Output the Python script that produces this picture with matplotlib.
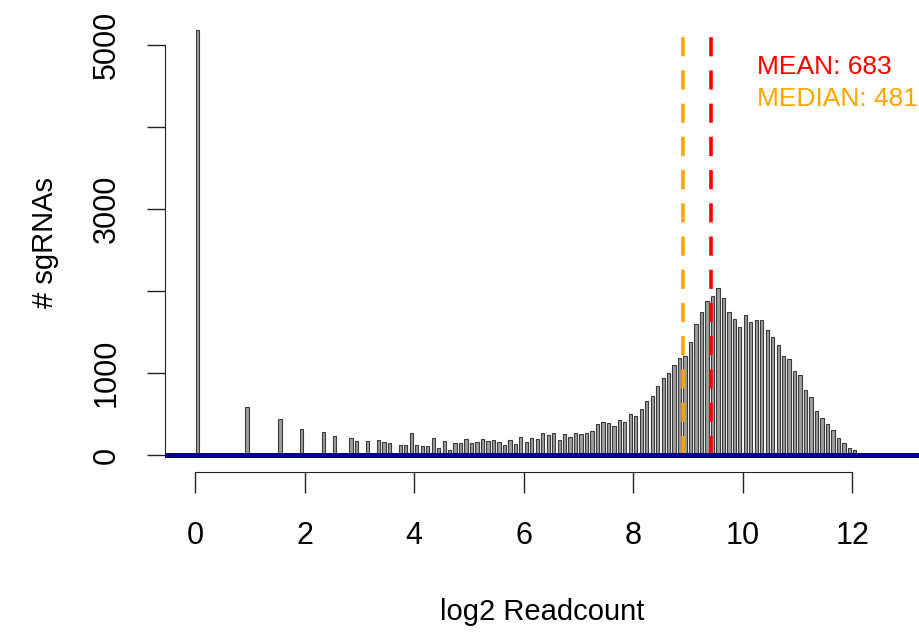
import matplotlib.pyplot as plt
import numpy as np

plt.rcParams['font.family'] = ['Liberation Sans', 'DejaVu Sans']

# histogram of log2(readcount + 1), bins of width 0.1 starting at 0
bin_start = 0.0
bin_width = 0.1
counts = [5180, 0, 0, 0, 0, 0, 0, 0, 0, 590,
          0, 0, 0, 0, 0, 440, 0, 0, 0, 320,
          0, 0, 0, 280, 0, 230, 0, 0, 210, 170,
          0, 170, 0, 180, 160, 150, 0, 120, 120, 270,
          120, 110, 110, 210, 85, 170, 60, 150, 150, 190,
          150, 160, 200, 175, 183, 162, 118, 183, 138, 219,
          158, 211, 191, 264, 244, 272, 179, 252, 219, 264,
          252, 272, 292, 374, 402, 386, 353, 422, 402, 505,
          470, 560, 658, 715, 844, 942, 1003, 1092, 1186, 1206,
          1380, 1592, 1746, 1876, 1937, 2030, 1916, 1746, 1660, 1555,
          1701, 1624, 1641, 1648, 1519, 1441, 1340, 1206, 1173, 1023,
          974, 788, 706, 536, 447, 374, 301, 211, 150, 82,
          57]
mean_count = 683
median_count = 481

counts = np.array(counts)
mids = bin_start + bin_width * (np.arange(len(counts)) + 0.5)

fig = plt.figure(figsize=(9.2, 6.39), dpi=100)
ax = fig.add_axes([165 / 920, 1 - 472 / 639, 755 / 920, 459 / 639])

ax.bar(mids, counts, width=0.06, color='#9e9e9e', edgecolor='#3a3a3a', linewidth=0.8, zorder=2)

top = counts.max()
ax.vlines(np.log2(median_count + 1), 0, top, color='orange', linewidth=2.6,
          linestyle=(0, (5.3, 3.9)), zorder=3)
ax.vlines(np.log2(mean_count + 1), 0, top, color='red', linewidth=2.6,
          linestyle=(0, (5.3, 3.9)), zorder=3)
ax.axhline(0, color='#000080', linewidth=3.6, zorder=4)

ax.text(10.26, 4640, 'MEAN: %d' % mean_count, color='red', fontsize=19, va='baseline')
ax.text(10.26, 4250, 'MEDIAN: %d' % median_count, color='orange', fontsize=19, va='baseline')

ax.set_xlim(-0.548, 13.24)
ax.set_ylim(-207, 5387)

for s in ['top', 'right']:
    ax.spines[s].set_visible(False)
ax.spines['left'].set_bounds(0, 5000)
ax.spines['bottom'].set_bounds(0, 12)
ax.spines['left'].set_color('#222222')
ax.spines['bottom'].set_color('#222222')

ax.set_xticks(np.arange(0, 13, 2))
ax.set_yticks(np.arange(0, 5001, 1000))
ax.set_yticklabels(['0', '1000', '', '3000', '', '5000'], rotation=90, va='center')
ax.tick_params(axis='x', length=15, width=1, color='#222222', labelsize=22, pad=20)
ax.tick_params(axis='y', length=13, width=1, color='#222222', labelsize=22, pad=18)

ax.set_xlabel('log2 Readcount', fontsize=21, va='center')
ax.xaxis.set_label_coords(0.5, -(612 - 472) / 459)
ax.set_ylabel('# sgRNAs', fontsize=21, va='center')
ax.yaxis.set_label_coords(-(165 - 45) / 755, 0.5)

plt.savefig('out.png', dpi=100)
